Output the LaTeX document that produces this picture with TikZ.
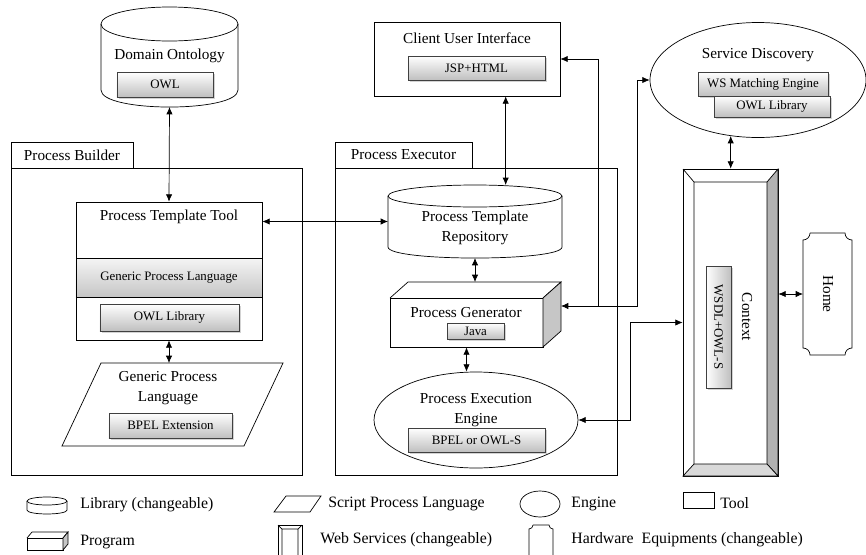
\documentclass[tikz,border=0pt]{standalone}
\usepackage{fontspec}
\setmainfont{Liberation Serif}
\usetikzlibrary{fit,shadows,arrows.meta,shapes.geometric}

\tikzset{
  gbox/.style={draw=black!75,top color=white,bottom color=gray!50,inner sep=0pt,
    drop shadow={shadow xshift=0.5mm,shadow yshift=-0.5mm,opacity=0.35},
    font=\fontsize{11}{13}\selectfont},
  boxline/.style={draw,inner sep=0pt},
  bbox/.style={inner sep=0pt,outer sep=0pt},
  bigtxt/.style={font=\fontsize{13}{17}\selectfont,align=center,inner sep=0pt},
  legtxt/.style={font=\fontsize{13.5}{16}\selectfont,anchor=west,inner sep=0pt}
}

\begin{document}
\begin{tikzpicture}[x=0.03cm,y=-0.03cm,line width=0.6pt,>={Latex[length=2.2mm,width=1.9mm]}]
\useasboundingbox (0,0) rectangle (866,554);

% groups
\node (buildertab) [boxline,bigtxt,minimum width=3.66cm,minimum height=0.78cm] at (72,155) {Process Builder};
\node (builder) [boxline,fit={(11,168) (302,475)}] {};
\node (executortab) [boxline,bigtxt,minimum width=4.11cm,minimum height=0.78cm] at (403.5,155) {Process Executor};
\node (executor) [boxline,fit={(335,168) (617,475)}] {};

% Domain Ontology
\node (onto) [bbox,fit={(101,7) (238,107)}] {};
\draw[fill=white] (101,24) -- (101,90) .. controls (101,112.7) and (238,112.7) .. (238,90) -- (238,24);
\draw (169.5,24) ellipse [x radius=68.5,y radius=17];
\node (ontotxt) [bigtxt] at (169.5,56) {Domain Ontology};
\node (owl1) [gbox,minimum width=2.88cm,minimum height=0.75cm] at (165,84.5) {OWL};

% Client User Interface
\node (cui) [boxline,fit={(374,22) (560,96)}] {};
\node (cuitxt) [bigtxt] at (467,38) {Client User Interface};
\node (jsp) [gbox,minimum width=4.11cm,minimum height=0.72cm] at (476.5,68) {JSP+HTML};

% Service Discovery
\node (disc) [draw,ellipse,minimum width=6.48cm,minimum height=3.45cm,inner sep=0pt] at (758,80) {};
\node (disctxt) [bigtxt] at (758,55) {Service Discovery};
\node (wsme) [gbox,minimum width=3.9cm,minimum height=0.72cm] at (763,84) {WS Matching Engine};
\node (owl3) [gbox,minimum width=3.48cm,minimum height=0.63cm] at (772,106.5) {OWL Library};

% Process Template Tool
\node (tool) [boxline,fit={(76,202) (262,340)}] {};
\node (tooltxt) [bigtxt] at (169,217) {Process Template Tool};
\node (gplband) [draw,top color=gray!8,bottom color=gray!45,inner sep=0pt,minimum width=5.58cm,minimum height=1.17cm,font=\fontsize{11}{13}\selectfont] at (169,277.5) {Generic Process Language};
\node (owl2) [gbox,minimum width=4.17cm,minimum height=0.81cm] at (169.5,317.5) {OWL Library};

% Generic Process Language
\node (gpl) [bbox,fit={(62,363) (283,446)}] {};
\draw (101,363) -- (283,363) -- (244,446) -- (62,446) -- cycle;
\node (gpltxt) [bigtxt] at (168,388) {Generic Process\\Language};
\node (bpel) [gbox,minimum width=3.69cm,minimum height=0.75cm] at (170.5,425.5) {BPEL Extension};

% Process Template Repository
\node (repo) [bbox,fit={(388,185) (562,258)}] {};
\draw[fill=white] (388,196) -- (388,247) .. controls (388,261.7) and (562,261.7) .. (562,247) -- (562,196);
\draw (475,196) ellipse [x radius=87,y radius=11];
\node (repotxt) [bigtxt] at (475,228) {Process Template\\Repository};

% Process Generator
\node (gen) [bbox,fit={(390,282) (561,347)}] {};
\node (genfront) [boxline,fit={(390,298) (543,347)}] {};
\draw (390,298) -- (408,282) -- (561,282) -- (543,298);
\draw[fill=gray!45] (543,298) -- (561,282) -- (561,331) -- (543,347) -- cycle;
\node (gentxt) [bigtxt] at (466,313) {Process Generator};
\node (java) [gbox,minimum width=1.71cm,minimum height=0.48cm] at (475.5,331) {Java};

% Process Execution Engine
\node (engine) [draw,ellipse,minimum width=6.12cm,minimum height=2.88cm,inner sep=0pt] at (476,420) {};
\node (enginetxt) [bigtxt] at (476,410) {Process Execution\\Engine};
\node (bpel2) [gbox,minimum width=4.11cm,minimum height=0.72cm] at (476.5,440) {BPEL or OWL-S};

% Context
\node (ctx) [boxline,fit={(683,169) (778,476)}] {};
\draw[fill=gray!60] (778,169) -- (778,476) -- (767,464) -- (767,182) -- cycle;
\draw[fill=gray!30] (683,476) -- (778,476) -- (767,464) -- (694,464) -- cycle;
\draw (683,169) -- (694,182) -- (767,182) (694,182) -- (694,464);
\node (ctxtxt) [bigtxt,rotate=-90] at (747,317) {Context};
\node (wsdl) [gbox,left color=white,right color=gray!50,rotate=-90,minimum width=3.66cm,minimum height=0.75cm] at (718.5,327) {WSDL+OWL-S};

% Home
\node (home) [bbox,fit={(803,233) (852,355)}] {};
\draw (810,233) -- (845,233) .. controls (845,236.9) and (848.1,240) .. (852,240)
  -- (852,348) .. controls (848.1,348) and (845,351.1) .. (845,355)
  -- (810,355) .. controls (810,351.1) and (806.9,348) .. (803,348)
  -- (803,240) .. controls (806.9,240) and (810,236.9) .. (810,233);
\node (hometxt) [bigtxt,rotate=-90] at (828,294) {Home};

% connectors
\coordinate (j1) at (598,306);
\coordinate (j2) at (637,306);
\coordinate (j3) at (630,0 |- ctx.west);
\draw[<->] (onto.south) -- (tool.north);
\draw[<->] (cui.-44) -- (cui.-44 |- repo.north);
\draw[<->] (tool.east |- repo.west) -- (repo.west);
\draw[<->] (repo.south) -- (repo.south |- gen.north);
\draw[<->] (genfront.south) -- (genfront.south |- engine.north);
\draw[<->] (tool.south) -- (tool.south |- gpl.north);
\draw[->] (j1) -- (j1 -| gen.east);
\draw[->] (j1) |- (cui.east);
\draw[->] (j1) -- (j2) |- (disc.west);
\draw[<->] (disc.-116) -- (disc.-116 |- ctx.north);
\draw[<->] (engine.east) -| (j3) -- (ctx.west);
\draw[<->] (ctx.east |- home.west) -- (home.west);

% legend
\node (lgcyl) [bbox,fit={(27,497) (67,514)}] {};
\draw (27,501) -- (27,510) .. controls (27,515.3) and (67,515.3) .. (67,510) -- (67,501);
\draw (47,501) ellipse [x radius=20,y radius=4];
\node (lglib) [legtxt] at (80,505) {Library (changeable)};
\node (lgpar) [bbox,fit={(274,496) (321,512)}] {};
\draw (286,496) -- (321,496) -- (310,512) -- (274,512) -- cycle;
\node (lgscript) [legtxt] at (328,504) {Script Process Language};
\node (lgell) [draw,ellipse,minimum width=1.2cm,minimum height=0.78cm,inner sep=0pt] at (540,504) {};
\node (lgengine) [legtxt] at (571,504) {Engine};
\node (lgrect) [boxline,fit={(683,492) (714,508)}] {};
\node (lgtool) [legtxt] at (720,503) {Tool};
\node (lgprog) [boxline,fit={(27,538) (63,550)}] {};
\draw (27,538) -- (32,532) -- (68,532) -- (63,538);
\draw[fill=gray!45] (63,538) -- (68,532) -- (68,544) -- (63,550) -- cycle;
\node (lgprogtxt) [legtxt] at (80,542) {Program};
\node (lgws) [boxline,fit={(278,525) (302,556)}] {};
\draw (278,525) -- (282,529) -- (298,529) -- (302,525) (282,529) -- (282,556) (298,529) -- (298,556);
\node (lgwstxt) [legtxt] at (320,540) {Web Services (changeable)};
\node (lghw) [bbox,fit={(529,525) (553,556)}] {};
\draw (533,525) -- (549,525) .. controls (549,527.2) and (550.8,529) .. (553,529) -- (553,556)
  (529,556) -- (529,529) .. controls (531.2,529) and (533,527.2) .. (533,525);
\node (lghwtxt) [legtxt] at (571,540) {Hardware~ Equipments (changeable)};
\end{tikzpicture}
\end{document}
